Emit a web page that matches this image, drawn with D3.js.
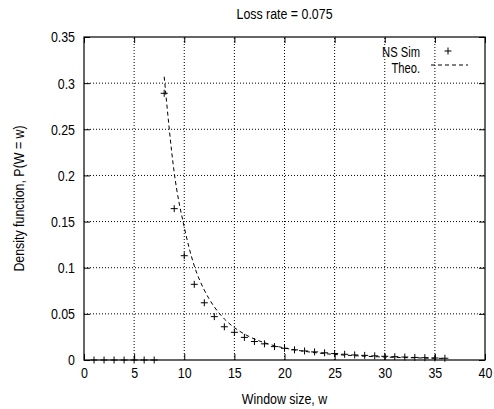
<!DOCTYPE html>
<html>
<head>
<meta charset="utf-8">
<script src="https://cdn.jsdelivr.net/npm/d3@7"></script>
<style>
  body { margin: 0; background: #fff; }
  svg text { font-family: "Liberation Sans", Arial, sans-serif; font-size: 15.5px; fill: #000; }
</style>
</head>
<body>
<div id="chart"></div>
<script>
// simulated density, w = 1..36
const simW = d3.range(1, 37);
const simP = [0, 0, 0, 0, 0, 0, 0, 0.289, 0.164, 0.113, 0.082, 0.062, 0.047, 0.036, 0.030,
  0.0245, 0.0200, 0.0175, 0.0145, 0.0127, 0.0110, 0.0098, 0.0088, 0.0078, 0.0070,
  0.0062, 0.0055, 0.0050, 0.0045, 0.0040, 0.0036, 0.0032, 0.0028, 0.0025, 0.0022, 0.0019];

// theoretical curve
const theoW = [8, 9, 10, 11, 12, 13, 14, 15, 16, 17, 18, 19, 20, 22, 24, 26, 28, 30, 32, 34, 36];
const theoP = [0.307, 0.203, 0.144, 0.102, 0.0758, 0.0575, 0.0445, 0.0351, 0.0281, 0.0228,
  0.0187, 0.0155, 0.0130, 0.0094, 0.0069, 0.0053, 0.0041, 0.0032, 0.0026, 0.0021, 0.0017];

const xTicks = [0, 5, 10, 15, 20, 25, 30, 35, 40];
const yTicks = [0, 0.05, 0.1, 0.15, 0.2, 0.25, 0.3, 0.35];

const width = 494, height = 409;
const margin = {top: 37, right: 9, bottom: 49, left: 84};
const squeeze = 0.8; // reference font is narrow

const svg = d3.select("#chart").append("svg")
  .attr("width", width)
  .attr("height", height);

const x = d3.scaleLinear().domain([0, 40]).range([margin.left, width - margin.right]);
const y = d3.scaleLinear().domain([0, 0.35]).range([height - margin.bottom, margin.top]);

// grid
svg.append("g").selectAll("line")
  .data(xTicks.slice(1, -1))
  .join("line")
  .attr("x1", d => x(d)).attr("x2", d => x(d))
  .attr("y1", y(0)).attr("y2", y(0.35))
  .attr("stroke", "#000").attr("stroke-width", 1)
  .attr("stroke-dasharray", "1,2");
svg.append("g").selectAll("line")
  .data(yTicks.slice(1, -1))
  .join("line")
  .attr("x1", x(0)).attr("x2", x(40))
  .attr("y1", d => y(d)).attr("y2", d => y(d))
  .attr("stroke", "#000").attr("stroke-width", 1)
  .attr("stroke-dasharray", "1,2");

// axes, ticks inward and mirrored
svg.append("g")
  .attr("transform", `translate(0,${y(0)})`)
  .call(d3.axisBottom(x).tickValues(xTicks).tickSize(-6).tickPadding(7).tickFormat(d3.format("d")))
  .call(g => g.select(".domain").remove());
svg.append("g")
  .attr("transform", `translate(0,${y(0.35)})`)
  .call(d3.axisTop(x).tickValues(xTicks).tickSize(-6).tickFormat(""))
  .call(g => g.select(".domain").remove());
svg.append("g")
  .attr("transform", `translate(${x(0)},0)`)
  .call(d3.axisLeft(y).tickValues(yTicks).tickSize(-6).tickPadding(9).tickFormat(d => d === 0 ? "0" : String(+d.toFixed(2))))
  .call(g => g.select(".domain").remove());
svg.append("g")
  .attr("transform", `translate(${x(40)},0)`)
  .call(d3.axisRight(y).tickValues(yTicks).tickSize(-6).tickFormat(""))
  .call(g => g.select(".domain").remove());

svg.selectAll(".tick text").style("font-size", "15.5px").attr("fill", "#000");
svg.selectAll(".tick line").attr("stroke", "#000");

// border
svg.append("rect")
  .attr("x", x(0)).attr("y", y(0.35))
  .attr("width", x(40) - x(0)).attr("height", y(0) - y(0.35))
  .attr("fill", "none").attr("stroke", "#000").attr("stroke-width", 1.2);

// theory line
svg.append("path")
  .datum(theoW.map((w, i) => [w, theoP[i]]))
  .attr("d", d3.line().x(d => x(d[0])).y(d => y(d[1])).curve(d3.curveMonotoneX))
  .attr("fill", "none").attr("stroke", "#000").attr("stroke-width", 1)
  .attr("stroke-dasharray", "4,3");

// sim points as plus marks
const plus = "M-3.5,0H3.5M0,-3.5V3.5";
svg.append("g").selectAll("path")
  .data(simW.map((w, i) => [w, simP[i]]))
  .join("path")
  .attr("transform", d => `translate(${x(d[0])},${y(d[1])})`)
  .attr("d", plus)
  .attr("stroke", "#000").attr("stroke-width", 1);

// legend
const lg = svg.append("g");
lg.append("text").attr("x", 420).attr("y", 57).attr("text-anchor", "end")
  .style("font-size", "14px").text("NS Sim");
lg.append("path").attr("transform", "translate(448,51)").attr("d", plus)
  .attr("stroke", "#000").attr("stroke-width", 1);
lg.append("text").attr("x", 420).attr("y", 73).attr("text-anchor", "end")
  .style("font-size", "14px").text("Theo.");
lg.append("line").attr("x1", 431).attr("x2", 468).attr("y1", 65).attr("y2", 65)
  .attr("stroke", "#000").attr("stroke-width", 1).attr("stroke-dasharray", "4,3");

// titles
svg.append("text").attr("x", (x(0) + x(40)) / 2).attr("y", 19)
  .attr("text-anchor", "middle").text("Loss rate = 0.075");
svg.append("text").attr("x", (x(0) + x(40)) / 2).attr("y", 404)
  .attr("text-anchor", "middle").text("Window size, w");
svg.append("text")
  .attr("y", 0)
  .attr("transform", `translate(24,${(y(0) + y(0.35)) / 2}) rotate(-90)`)
  .attr("text-anchor", "middle").text("Density function, P(W = w)");

// narrow the glyphs horizontally, keeping each anchor in place
svg.selectAll("text").each(function() {
  const t = d3.select(this);
  const tx = +(t.attr("x") || 0);
  const prev = t.attr("transform") || "";
  t.attr("x", 0).attr("transform", `${prev} translate(${tx},0) scale(${squeeze},1)`);
});
</script>
</body>
</html>
